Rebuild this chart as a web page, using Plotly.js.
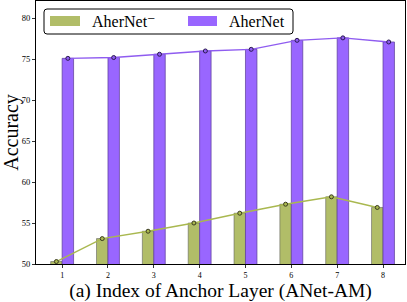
<!DOCTYPE html>
<html><head><meta charset="utf-8">
<script src="https://cdn.plot.ly/plotly-3.0.1.min.js"></script>
<style>html,body{margin:0;padding:0;background:#fff}#chart{width:407px;height:302px}</style>
</head><body><div id="chart"></div>
<script>
const layers = [1, 2, 3, 4, 5, 6, 7, 8];
const tickLabels = ['1', '2', '3', '4', '5', '6', '7', '8'];
const aherNetMinus = [50.3, 53.1, 54.0, 55.0, 56.2, 57.3, 58.2, 56.9];
const aherNet = [75.1, 75.2, 75.6, 76.0, 76.2, 77.3, 77.6, 77.1];
const seriesNames = ['AherNet\u207B', 'AherNet'];

const GREEN = '#b1bd68';
const PURPLE = '#9966ff';
const GREEN_LINE = '#a9b84f';
const PURPLE_LINE = '#8f5cf0';
const BW = 0.25;
const FONT = '"Liberation Serif", "DejaVu Serif", serif';

const traces = [
  {type: 'bar', x: layers, y: aherNetMinus, width: BW, offset: -BW, name: seriesNames[0],
   marker: {color: GREEN, line: {color: 'rgba(90,90,90,0.55)', width: 1}}, showlegend: false},
  {type: 'bar', x: layers, y: aherNet, width: BW, offset: 0, name: seriesNames[1],
   marker: {color: PURPLE, line: {color: 'rgba(90,60,150,0.7)', width: 1}}, showlegend: false},
  {type: 'scatter', mode: 'lines+markers', x: layers.map(v => v - BW / 2), y: aherNetMinus,
   line: {color: GREEN_LINE, width: 1.4}, marker: {size: 4, color: GREEN_LINE, line: {color: '#3a3a20', width: 1}}, showlegend: false},
  {type: 'scatter', mode: 'lines+markers', x: layers.map(v => v + BW / 2), y: aherNet,
   line: {color: PURPLE_LINE, width: 1.4}, marker: {size: 4, color: PURPLE_LINE, line: {color: '#2a1a50', width: 1}}, showlegend: false}
];

function px(x) { return (x - 36) / (405 - 36); }
function py(y) { return (264 - y) / (264 - 1); }
function roundedRect(x0, y0, x1, y1, r) {
  const X = v => px(v), Y = v => py(v);
  const rx = r / (405 - 36), ry = r / (264 - 1);
  return `M${X(x0) + rx},${Y(y0)} L${X(x1) - rx},${Y(y0)} Q${X(x1)},${Y(y0)} ${X(x1)},${Y(y0) - ry} ` +
    `L${X(x1)},${Y(y1) + ry} Q${X(x1)},${Y(y1)} ${X(x1) - rx},${Y(y1)} L${X(x0) + rx},${Y(y1)} ` +
    `Q${X(x0)},${Y(y1)} ${X(x0)},${Y(y1) + ry} L${X(x0)},${Y(y0) - ry} Q${X(x0)},${Y(y0)} ${X(x0) + rx},${Y(y0)} Z`;
}

const layout = {
  width: 407, height: 302,
  margin: {l: 36, r: 2, t: 1, b: 38},
  paper_bgcolor: '#fff', plot_bgcolor: '#fff',
  font: {family: FONT, color: '#000'},
  barmode: 'overlay',
  showlegend: false,
  xaxis: {
    range: [0.43, 8.48], tickvals: layers, ticktext: tickLabels,
    showgrid: false, zeroline: false, showline: true, mirror: true, linecolor: '#000', linewidth: 1,
    ticks: 'outside', ticklen: 3, tickwidth: 0.8, tickcolor: '#000',
    tickfont: {family: FONT, size: 8},
    title: {text: '(a) Index of Anchor Layer (ANet-AM)', font: {family: FONT, size: 19.5}, standoff: 5}
  },
  yaxis: {
    range: [50, 82.1], tickvals: [50, 55, 60, 65, 70, 75, 80],
    showgrid: false, zeroline: false, showline: true, mirror: true, linecolor: '#000', linewidth: 1,
    ticks: 'outside', ticklen: 3, tickwidth: 0.8, tickcolor: '#000',
    tickfont: {family: FONT, size: 8.5},
    title: {text: 'Accuracy', font: {family: FONT, size: 20}, standoff: 6}
  },
  shapes: [
    {type: 'path', xref: 'paper', yref: 'paper',
     path: roundedRect(44, 9, 293, 34, 3), line: {color: '#000', width: 1}, fillcolor: '#fff', layer: 'above'},
    {type: 'rect', xref: 'paper', yref: 'paper', x0: px(50), x1: px(80), y0: py(26), y1: py(16),
     fillcolor: GREEN, line: {width: 0}, layer: 'above'},
    {type: 'rect', xref: 'paper', yref: 'paper', x0: px(188), x1: px(217), y0: py(26), y1: py(16),
     fillcolor: PURPLE, line: {width: 0}, layer: 'above'}
  ],
  annotations: [
    {xref: 'paper', yref: 'paper', x: px(90), y: py(21.5), xanchor: 'left', yanchor: 'middle', showarrow: false,
     text: seriesNames[0], font: {family: FONT, size: 16}},
    {xref: 'paper', yref: 'paper', x: px(227), y: py(21.5), xanchor: 'left', yanchor: 'middle', showarrow: false,
     text: seriesNames[1], font: {family: FONT, size: 16}}
  ]
};

Plotly.newPlot('chart', traces, layout, {displayModeBar: false, staticPlot: true});
</script>
</body></html>
